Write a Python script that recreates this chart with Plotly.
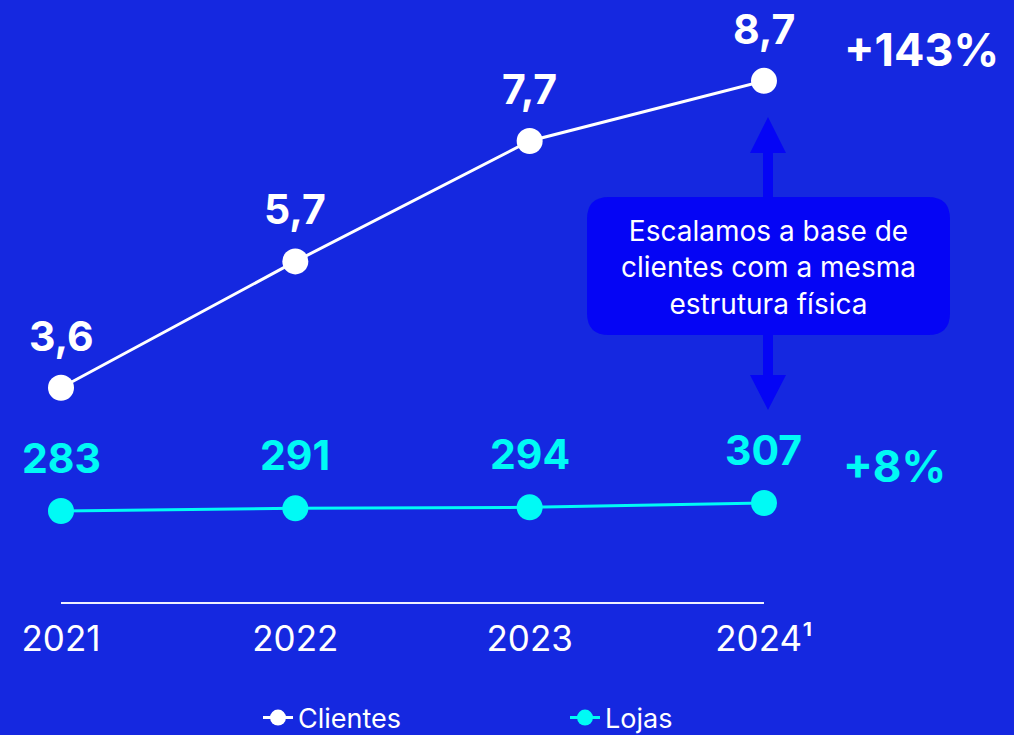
import plotly.graph_objects as go

# ---- data ----
years = [2021, 2022, 2023, 2024]
year_labels = ["2021", "2022", "2023", "2024¹"]
clientes = [3.6, 5.7, 7.7, 8.7]
clientes_text = ["3,6", "5,7", "7,7", "8,7"]
lojas = [283, 291, 294, 307]
lojas_text = ["283", "291", "294", "307"]
growth_clientes = "+143%"
growth_lojas = "+8%"
callout = "Escalamos a base de<br>clientes com a mesma<br>estrutura física"

BG = "#1528E0"
CYAN = "#00FAF5"
BOXBLUE = "#0505F5"
FONT = "Inter, Open Sans, sans-serif"

W, H = 1014, 735
PH = 603  # plot area height in px (top margin 0)

def fx(px):
    return px / W

def fy(py):
    return 1 - py / PH

fig = go.Figure()
fig.add_trace(go.Scatter(
    x=years, y=clientes, name="Clientes", mode="lines+markers",
    line=dict(color="white", width=3),
    marker=dict(color="white", size=26),
    yaxis="y",
))
fig.add_trace(go.Scatter(
    x=years, y=lojas, name="Lojas", mode="lines+markers",
    line=dict(color=CYAN, width=3),
    marker=dict(color=CYAN, size=26),
    yaxis="y2",
))

annotations = []
for x, v, t in zip(years, clientes, clientes_text):
    annotations.append(dict(x=x, y=v, xref="x", yref="y", text=f"<b>{t}</b>",
                            showarrow=False, yshift=52,
                            font=dict(family=FONT, size=41, color="white")))
for x, v, t in zip(years, lojas, lojas_text):
    annotations.append(dict(x=x, y=v, xref="x", yref="y2", text=f"<b>{t}</b>",
                            showarrow=False, yshift=53,
                            font=dict(family=FONT, size=41, color=CYAN)))
annotations.append(dict(x=years[-1], y=clientes[-1], xref="x", yref="y",
                        text=f"<b>{growth_clientes}</b>", showarrow=False,
                        xshift=158, yshift=31,
                        font=dict(family=FONT, size=45, color="white")))
annotations.append(dict(x=years[-1], y=lojas[-1], xref="x", yref="y2",
                        text=f"<b>{growth_lojas}</b>", showarrow=False,
                        xshift=131, yshift=37,
                        font=dict(family=FONT, size=44, color=CYAN)))
annotations.append(dict(x=fx(768), y=fy(267), xref="paper", yref="paper",
                        xanchor="center", yanchor="middle",
                        text=callout, showarrow=False, align="center",
                        font=dict(family=FONT, size=28, color="white")))

# rounded callout box
x0, x1, y0, y1, r = 587, 950, 197, 335, 22
def P(px, py):
    return f"{fx(px)},{fy(py)}"
box_path = (f"M{P(x0+r,y0)} L{P(x1-r,y0)} Q{P(x1,y0)} {P(x1,y0+r)} "
            f"L{P(x1,y1-r)} Q{P(x1,y1)} {P(x1-r,y1)} L{P(x0+r,y1)} "
            f"Q{P(x0,y1)} {P(x0,y1-r)} L{P(x0,y0+r)} Q{P(x0,y0)} {P(x0+r,y0)} Z")
up_arrow = (f"M{P(768,117)} L{P(786,153)} L{P(773,153)} L{P(773,197)} "
            f"L{P(763,197)} L{P(763,153)} L{P(750,153)} Z")
down_arrow = (f"M{P(768,410)} L{P(786,375)} L{P(773,375)} L{P(773,335)} "
              f"L{P(763,335)} L{P(763,375)} L{P(750,375)} Z")

shapes = [
    dict(type="path", xref="paper", yref="paper", path=up_arrow,
         fillcolor=BOXBLUE, line=dict(width=0)),
    dict(type="path", xref="paper", yref="paper", path=down_arrow,
         fillcolor=BOXBLUE, line=dict(width=0)),
    dict(type="path", xref="paper", yref="paper", path=box_path,
         fillcolor=BOXBLUE, line=dict(width=0)),
    dict(type="line", xref="x", yref="paper", x0=years[0], x1=years[-1],
         y0=0, y1=0, line=dict(color="#EEF0FF", width=2)),
]

fig.update_layout(
    width=W, height=H,
    paper_bgcolor=BG, plot_bgcolor=BG,
    margin=dict(l=0, r=0, t=0, b=H - PH, autoexpand=False),
    xaxis=dict(range=[2020.7397, 2025.0669], tickvals=years, ticktext=year_labels,
               showgrid=False, zeroline=False, showline=False, ticks="",
               tickfont=dict(family=FONT, size=35, color="white"),
               ticklabelstandoff=12, fixedrange=True),
    yaxis=dict(range=[0.024, 10.043], visible=False, fixedrange=True),
    yaxis2=dict(range=[7, 1816], visible=False, overlaying="y", fixedrange=True),
    showlegend=True,
    legend=dict(orientation="h", x=fx(258), xanchor="left", y=fy(718),
                yanchor="middle", entrywidth=262, entrywidthmode="pixels",
                font=dict(family=FONT, size=27, color="white"),
                bgcolor="rgba(0,0,0,0)", itemsizing="trace"),
    annotations=annotations,
    shapes=shapes,
    font=dict(family=FONT),
)

fig.write_html(
    "out.html",
    config={"displayModeBar": False},
    post_script="document.body.style.margin='0';document.body.style.overflow='hidden';",
)
